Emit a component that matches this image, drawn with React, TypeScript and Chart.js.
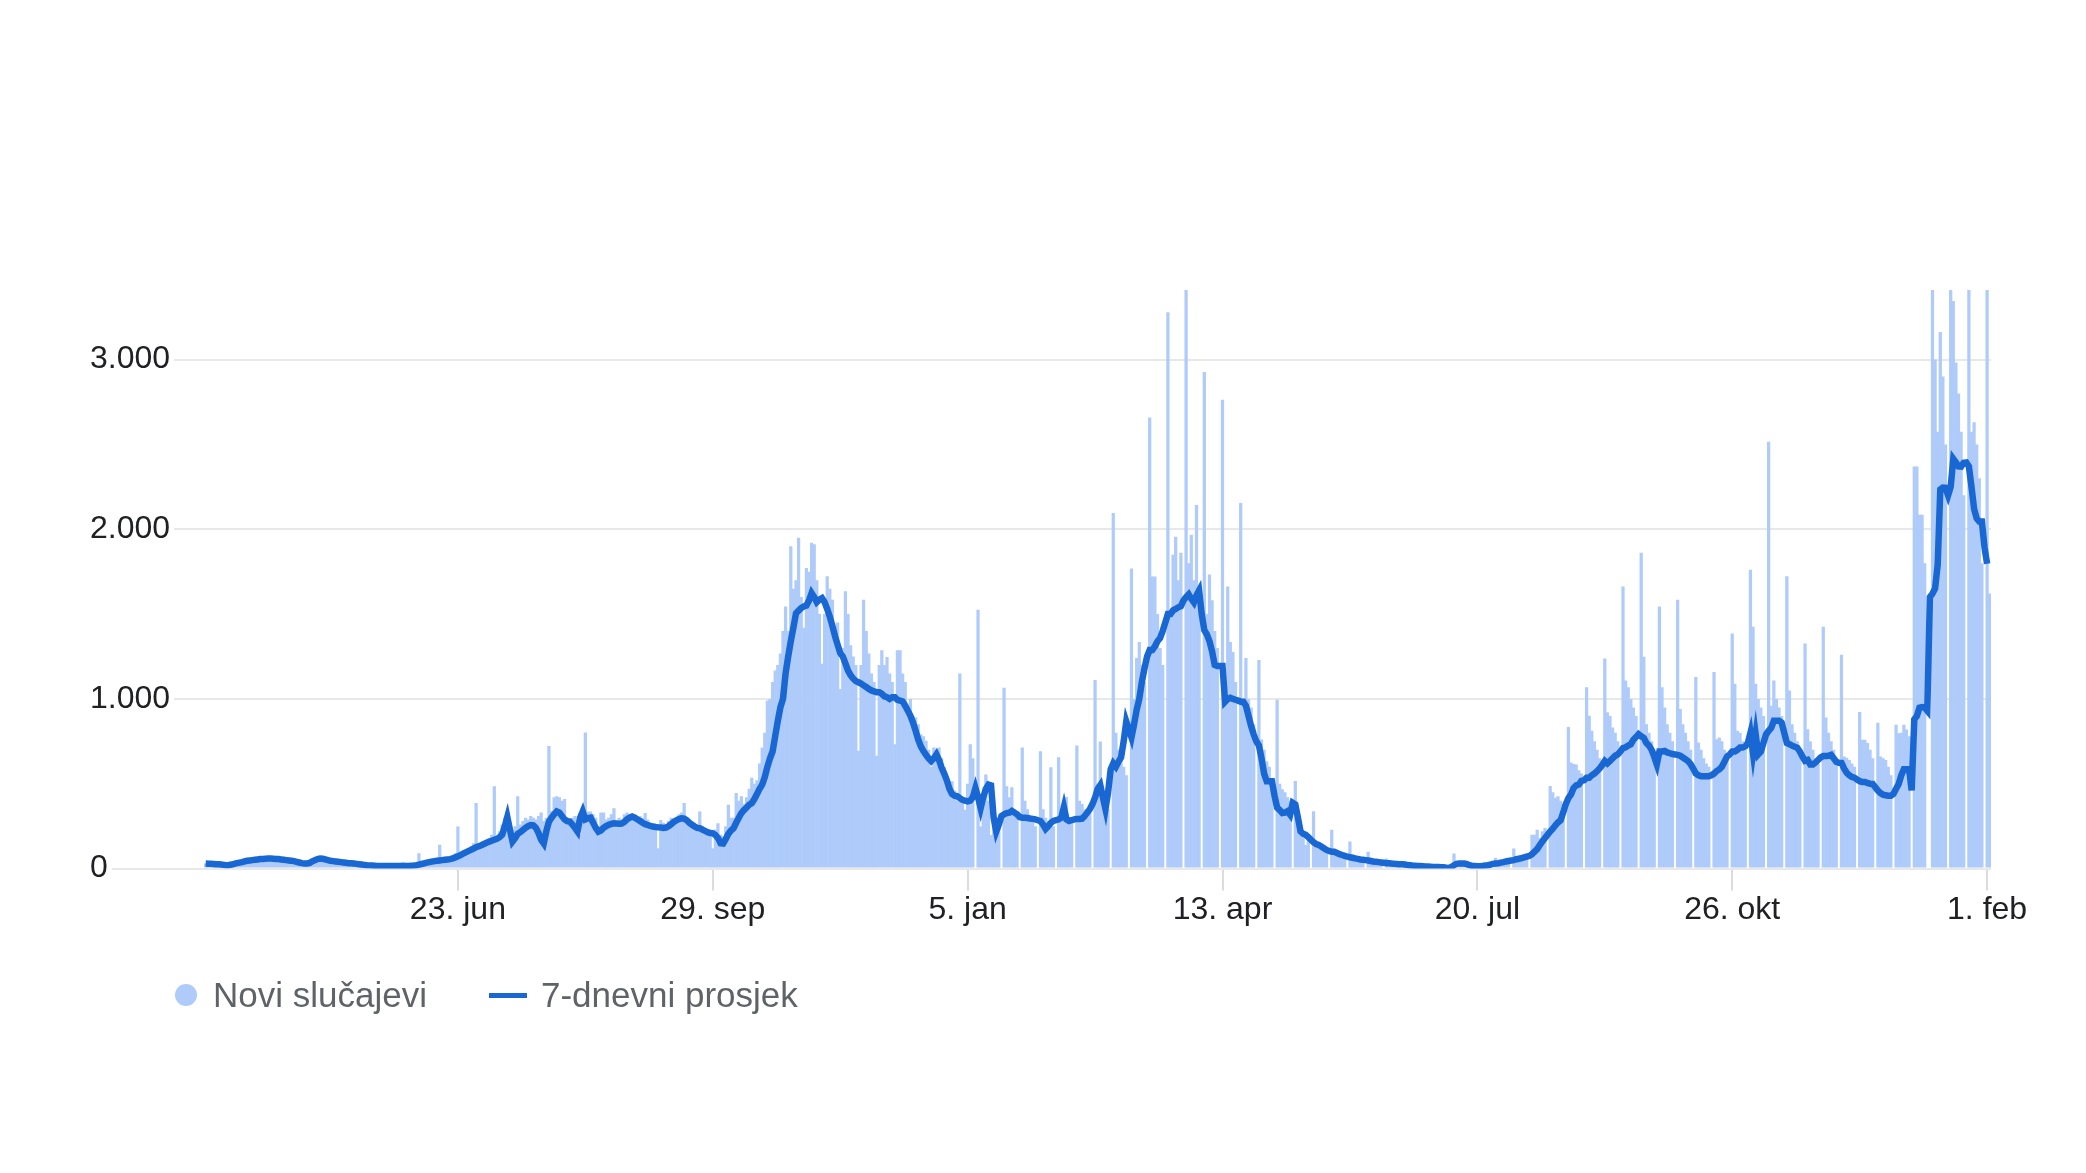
import React, { useEffect, useRef } from 'react';
import { Chart, registerables } from 'chart.js';

Chart.register(...registerables);

// Day 0 = 18 Mar 2020, one value per day.
const TICK_DAYS = [97, 195, 293, 391, 489, 587, 685];
const TICK_LABELS = ['23. jun', '29. sep', '5. jan', '13. apr', '20. jul', '26. okt', '1. feb'];
const Y_TICKS = [0, 1000, 2000, 3000];
const Y_MAX = 3410;

// Novi slučajevi (daily new cases), one row per week
const NEW_CASES: number[] = [
  30, 25, 35, 20, 25, 30, 15,
  20, 15, 35, 40, 45, 50, 40,
  55, 60, 50, 55, 45, 60, 55,
  65, 60, 55, 50, 50, 55, 60,
  45, 40, 50, 45, 40, 45, 45,
  35, 30, 25, 30, 35, 40, 40,
  60, 70, 65, 55, 45, 40, 40,
  40, 35, 35, 30, 30, 30, 30,
  25, 25, 20, 20, 20, 20, 15,
  15, 15, 20, 15, 15, 15, 20,
  15, 20, 15, 15, 15, 20, 15,
  20, 15, 20, 25, 20, 90, 30,
  40, 45, 50, 60, 55, 45, 140,
  50, 55, 65, 60, 75, 90, 248,
  80, 100, 110, 120, 130, 150, 386,
  140, 150, 160, 170, 180, 200, 485,
  190, 220, 260, 300, 320, 200, 230,
  250, 426, 260, 280, 300, 290, 310,
  300, 290, 310, 330, 280, 300, 723,
  340, 420, 426, 420, 400, 410, 300,
  280, 300, 310, 290, 200, 340, 802,
  337, 337, 320, 300, 250, 330, 330,
  290, 300, 320, 356, 280, 300, 290,
  320, 330, 317, 300, 290, 280, 310,
  300, 327, 290, 250, 240, 260, 120,
  287, 270, 260, 280, 300, 290, 280,
  320, 330, 386, 300, 290, 280, 270,
  260, 337, 250, 240, 230, 200, 120,
  230, 267, 200, 190, 250, 376, 300,
  300, 446, 400, 426, 380, 420, 470,
  535, 500, 520, 620, 713, 800, 990,
  1000, 1100, 1168, 1200, 1267, 1400, 1545,
  1400, 1900, 1650, 1700, 1950, 1600, 1420,
  1772, 1750, 1921, 1911, 1700, 1500, 1208,
  1500, 1723, 1650, 1584, 1386, 1450, 1059,
  1300, 1634, 1500, 1317, 1250, 1200, 695,
  1200, 1584, 1400, 1267, 1150, 1100, 665,
  1200, 1287, 1200, 1247, 1150, 1100, 733,
  1287, 1287, 1150, 1100, 960, 1000, 900,
  891, 850, 792, 780, 753, 700, 600,
  713, 700, 713, 650, 600, 535, 515,
  515, 460, 400, 1150, 420, 347, 500,
  733, 650, 0, 1525, 248, 400, 554,
  400, 198, 350, 300, 250, 0, 1066,
  485, 420, 480, 350, 300, 0, 714,
  400, 350, 300, 280, 250, 0, 691,
  350, 300, 280, 597, 250, 0, 656,
  350, 300, 422, 300, 280, 0, 726,
  400, 380, 350, 300, 350, 0, 1112,
  500, 749, 450, 400, 350, 0, 2096,
  800, 700, 650, 600, 550, 0, 1768,
  1000, 1241, 1335, 1200, 1100, 0, 2658,
  1721, 1721, 1500, 1300, 1200, 0, 3279,
  1500, 1850, 1956, 1700, 1862, 0, 3410,
  1800, 1967, 1700, 2143, 1600, 0, 2927,
  1500, 1733, 1581, 1400, 1300, 0, 2763,
  1100, 1663, 1335, 1276, 1100, 0, 2155,
  1000, 1241, 1000, 950, 850, 0, 1230,
  761, 700, 632, 600, 500, 0, 995,
  500, 468, 450, 420, 400, 0, 517,
  300, 250, 200, 139, 180, 0, 338,
  150, 130, 120, 110, 100, 0, 229,
  110, 90, 80, 70, 60, 0, 159,
  70, 60, 55, 50, 45, 0, 99,
  45, 40, 35, 35, 30, 0, 60,
  30, 30, 25, 25, 20, 0, 45,
  25, 20, 15, 15, 10, 0, 30,
  12, 10, 10, 8, 8, 0, 25,
  8, 5, 5, 10, 89, 0, 20,
  30, 25, 20, 15, 12, 0, 25,
  20, 20, 25, 25, 30, 0, 64,
  40, 45, 50, 50, 55, 0, 119,
  70, 75, 80, 85, 90, 0, 199,
  200, 229, 180, 220, 240, 0, 487,
  450, 417, 427, 400, 380, 0, 835,
  626, 616, 614, 580, 560, 0, 1069,
  901, 812, 750, 700, 650, 0, 1238,
  921, 900, 832, 800, 750, 0, 1663,
  1109, 1069, 1000, 950, 900, 0, 1861,
  1248, 851, 800, 750, 700, 0, 1545,
  1069, 950, 850, 800, 750, 0, 1584,
  941, 850, 800, 750, 700, 0, 1129,
  743, 700, 650, 620, 600, 0, 1158,
  762, 772, 750, 700, 680, 0, 1386,
  1089, 812, 800, 750, 700, 0, 1762,
  1426, 1089, 1000, 950, 900, 0, 2515,
  960, 1109, 1000, 950, 900, 0, 1723,
  1050, 851, 800, 750, 700, 0, 1327,
  822, 750, 700, 650, 620, 0, 1426,
  891, 800, 750, 700, 650, 0, 1260,
  660, 653, 640, 620, 600, 0, 923,
  760, 760, 740, 700, 650, 0, 860,
  660, 650, 640, 600, 550, 0, 848,
  798, 800, 848, 820, 780, 0, 2370,
  2370, 2086, 2086, 1800, 0, 0, 3410,
  3000, 2574, 3163, 2900, 2500, 0, 3410,
  3345, 2982, 2800, 2574, 2200, 0, 3410,
  2574, 2630, 2500, 2300, 1800, 0, 3410,
  1621,
];

// 7-dnevni prosjek (7-day average), one row per week
const AVG_7D: number[] = [
  30, 29, 28, 27, 26, 25, 24,
  22, 20, 21, 24, 28, 32, 35,
  38, 42, 46, 48, 50, 52, 54,
  56, 57, 58, 59, 59, 58, 57,
  56, 54, 52, 50, 48, 46, 44,
  40, 36, 32, 30, 30, 34, 42,
  50, 56, 59, 58, 54, 50, 46,
  44, 42, 40, 38, 36, 34, 32,
  31, 30, 28, 26, 24, 22, 20,
  19, 18, 17, 16, 16, 16, 16,
  16, 16, 16, 16, 16, 16, 17,
  16, 16, 17, 18, 20, 23, 27,
  31, 35, 38, 41, 44, 46, 48,
  50, 52, 54, 56, 60, 66, 72,
  80, 88, 96, 103, 110, 118, 126,
  132, 138, 145, 152, 158, 164, 170,
  175, 185, 200, 248, 305, 230, 160,
  180, 205, 215, 228, 240, 250, 257,
  255, 240, 210, 170, 148, 220, 277,
  300, 320, 337, 330, 310, 290, 280,
  277, 260, 240, 218, 300, 337, 290,
  297, 300, 270, 240, 218, 225, 240,
  250, 258, 263, 267, 266, 265, 266,
  275, 290, 300, 307, 300, 290, 280,
  270, 262, 257, 252, 248, 245, 243,
  242, 240, 242, 250, 262, 275, 285,
  292, 297, 295, 285, 270, 258, 248,
  240, 238, 230, 222, 215, 210, 208,
  198, 180, 150, 148, 175, 205, 225,
  238, 270, 300, 327, 345, 360, 376,
  386, 410, 440, 470, 495, 540, 600,
  650, 690, 780, 870, 950, 1000, 1150,
  1250, 1340, 1420, 1505, 1520, 1535, 1545,
  1550, 1580, 1624, 1600, 1570, 1585, 1594,
  1570, 1530, 1485, 1430, 1370, 1320, 1270,
  1250, 1210, 1167, 1140, 1120, 1105, 1098,
  1090, 1080, 1070, 1059, 1050, 1045, 1040,
  1040, 1030, 1015, 1010, 1000, 1010, 1010,
  995, 990, 985, 960, 931, 900, 860,
  812, 760, 720, 693, 670, 650, 634,
  650, 673, 640, 594, 560, 520, 470,
  440, 430, 426, 415, 405, 400, 396,
  400, 420, 475, 420, 356, 420, 470,
  495, 490, 300, 218, 260, 310, 320,
  327, 330, 340, 330, 320, 304, 300,
  300, 298, 295, 293, 290, 285, 280,
  260, 234, 250, 270, 281, 285, 290,
  300, 363, 290, 281, 285, 290, 293,
  293, 295, 310, 330, 351, 380, 420,
  470, 492, 420, 351, 450, 585, 620,
  600, 630, 656, 750, 867, 820, 773,
  850, 937, 1000, 1101, 1180, 1250, 1288,
  1288, 1310, 1340, 1358, 1400, 1450, 1500,
  1500, 1522, 1530, 1540, 1546, 1580, 1600,
  1616, 1590, 1569, 1610, 1639, 1500, 1405,
  1380, 1340, 1280, 1200, 1194, 1194, 1194,
  984, 1000, 1007, 1000, 995, 990, 984,
  984, 960, 900, 840, 790, 750, 726,
  650, 560, 515, 515, 515, 430, 360,
  345, 328, 330, 338, 318, 388, 378,
  300, 219, 205, 199, 185, 170, 155,
  145, 139, 130, 120, 110, 104, 99,
  99, 92, 85, 80, 75, 70, 67,
  64, 60, 57, 54, 52, 50, 48,
  45, 42, 40, 38, 36, 34, 32,
  31, 30, 28, 27, 26, 25, 24,
  22, 20, 18, 17, 16, 15, 14,
  13, 12, 11, 10, 10, 9, 8,
  8, 5, 2, 10, 20, 28, 30,
  30, 30, 26, 20, 16, 15, 14,
  14, 16, 18, 20, 24, 28, 30,
  32, 35, 38, 42, 45, 48, 50,
  55, 58, 62, 66, 70, 75, 85,
  100, 115, 139, 160, 180, 200, 219,
  235, 255, 272, 285, 330, 380, 416,
  437, 475, 490, 495, 517, 520, 535,
  535, 550, 560, 574, 590, 610, 634,
  620, 634, 650, 665, 673, 690, 710,
  715, 725, 733, 760, 775, 792, 780,
  770, 740, 725, 700, 660, 614, 690,
  690, 693, 685, 680, 675, 673, 670,
  665, 655, 645, 634, 615, 590, 560,
  550, 545, 545, 545, 545, 550, 560,
  575, 584, 600, 630, 660, 673, 690,
  690, 700, 713, 713, 720, 740, 800,
  680, 792, 673, 690, 740, 790, 812,
  830, 871, 871, 871, 860, 800, 740,
  733, 725, 718, 713, 690, 660, 635,
  640, 614, 614, 625, 640, 655, 663,
  663, 665, 670, 650, 630, 624, 623,
  590, 565, 550, 540, 536, 525, 515,
  511, 511, 505, 500, 499, 480, 460,
  445, 436, 432, 429, 429, 440, 470,
  499, 550, 586, 586, 586, 461, 880,
  900, 948, 952, 948, 930, 1600, 1621,
  1650, 1791, 2234, 2245, 2244, 2200, 2250,
  2415, 2394, 2370, 2369, 2392, 2394, 2370,
  2250, 2120, 2063, 2045, 2045, 1893, 1796,
];

const SERIES_NAMES = ['Novi slučajevi', '7-dnevni prosjek'];

const FONT = 'Arial, "Liberation Sans", Helvetica, sans-serif';
const BAR_COLOR = '#aecbfa';
const LINE_COLOR = '#1967d2';
const GRID_COLOR = '#e8e8e8';
const TICK_MARK_COLOR = '#dadce0';
const TEXT_COLOR = '#202124';
const LEGEND_COLOR = '#5f6368';

const fmtThousands = (v: number) => (v === 0 ? '0' : `${Math.round(v / 1000)}.000`);

// Google-style: gridlines begin right after each (left-aligned) y label.
const gridLeadPlugin = {
  id: 'gridLead',
  beforeDatasetsDraw(chart: any) {
    const y = chart.scales.y;
    const ctx = chart.ctx;
    const left = chart.chartArea.left;
    ctx.save();
    ctx.font = `32px ${FONT}`;
    ctx.strokeStyle = GRID_COLOR;
    ctx.lineWidth = 2;
    y.ticks.forEach((t: any) => {
      const w = ctx.measureText(String(t.label)).width;
      const x0 = y.left + w + 4;
      if (x0 < left) {
        const py = Math.round(y.getPixelForValue(t.value));
        ctx.beginPath();
        ctx.moveTo(x0, py);
        ctx.lineTo(left, py);
        ctx.stroke();
      }
    });
    ctx.restore();
  },
};

export default function App() {
  const ref = useRef<HTMLCanvasElement | null>(null);

  useEffect(() => {
    if (!ref.current) return;
    const chart = new Chart(ref.current, {
      type: 'bar',
      data: {
        datasets: [
          {
            type: 'line',
            label: SERIES_NAMES[1],
            data: AVG_7D.map((v, i) => ({ x: i, y: v })),
            borderColor: LINE_COLOR,
            borderWidth: 6.5,
            pointRadius: 0,
            tension: 0,
            fill: false,
            order: 1,
          } as any,
          {
            type: 'bar',
            label: SERIES_NAMES[0],
            data: NEW_CASES.map((v, i) => ({ x: i, y: v })),
            backgroundColor: BAR_COLOR,
            borderWidth: 0,
            barPercentage: 1.25,
            categoryPercentage: 1,
            order: 2,
          } as any,
        ],
      },
      options: {
        responsive: false,
        animation: false,
        devicePixelRatio: 1,
        events: [],
        layout: { padding: { top: 282, left: 82, right: 87, bottom: 79 } },
        plugins: { legend: { display: false }, tooltip: { enabled: false } },
        scales: {
          x: {
            type: 'linear',
            min: -10.6,
            max: 686.5,
            offset: false,
            afterBuildTicks: (s: any) => {
              s.ticks = TICK_DAYS.map((v) => ({ value: v }));
            },
            grid: {
              display: true,
              drawOnChartArea: false,
              drawTicks: true,
              tickLength: 22,
              color: TICK_MARK_COLOR,
              lineWidth: 2,
              offset: false,
            },
            border: { display: false },
            ticks: {
              autoSkip: false,
              maxRotation: 0,
              minRotation: 0,
              padding: 0,
              color: TEXT_COLOR,
              font: { family: FONT, size: 32 },
              callback: (v: any) => {
                const i = TICK_DAYS.indexOf(Number(v));
                return i >= 0 ? TICK_LABELS[i] : '';
              },
            },
          },
          y: {
            min: 0,
            max: Y_MAX,
            afterBuildTicks: (s: any) => {
              s.ticks = Y_TICKS.map((v) => ({ value: v }));
            },
            grid: { color: GRID_COLOR, lineWidth: 2, drawTicks: false },
            border: { display: false },
            ticks: {
              padding: 4,
              crossAlign: 'far',
              color: TEXT_COLOR,
              font: { family: FONT, size: 32 },
              callback: (v: any) => fmtThousands(Number(v)),
            },
          },
        } as any,
      },
      plugins: [gridLeadPlugin],
    });
    return () => chart.destroy();
  }, []);

  return (
    <div style={{ position: 'relative', width: 2070, height: 1157 }}>
      <canvas ref={ref} width={2070} height={1000} style={{ display: 'block', position: 'absolute', left: 0, top: 0 }} />
      <div
        style={{
          position: 'absolute',
          left: 167,
          top: 967,
          height: 40,
          display: 'flex',
          alignItems: 'center',
          fontFamily: FONT,
          fontSize: 35,
          color: LEGEND_COLOR,
          whiteSpace: 'nowrap',
        }}
      >
        <span style={{ width: 22, height: 22, borderRadius: '50%', background: BAR_COLOR, display: 'inline-block', marginRight: 16 }} />
        <span>{SERIES_NAMES[0]}</span>
        <span style={{ width: 38, height: 5, background: LINE_COLOR, display: 'inline-block', marginLeft: 62, marginRight: 14 }} />
        <span>{SERIES_NAMES[1]}</span>
      </div>
    </div>
  );
}
